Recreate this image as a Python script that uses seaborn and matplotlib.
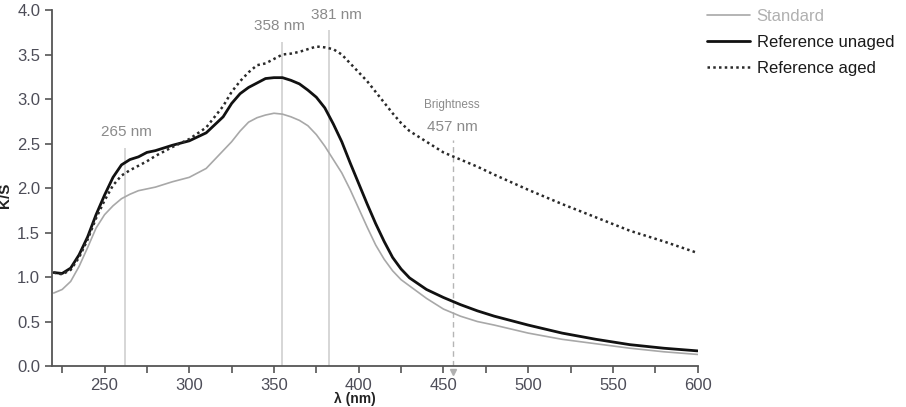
import numpy as np
import pandas as pd
import matplotlib
matplotlib.use("Agg")
import matplotlib.pyplot as plt
import seaborn as sns

# Wavelengths (nm) and K/S values
wavelength = [220, 225, 230, 235, 240, 245, 250, 255, 260, 265, 270, 275, 280,
              290, 300, 310, 320, 325, 330, 335, 340, 345, 350, 355, 360, 365,
              370, 375, 380, 385, 390, 395, 400, 405, 410, 415, 420, 425, 430,
              440, 450, 460, 470, 480, 500, 520, 540, 560, 580, 600]

standard = [0.82, 0.86, 0.95, 1.12, 1.33, 1.55, 1.70, 1.80, 1.88, 1.93, 1.97, 1.99, 2.01,
            2.07, 2.12, 2.22, 2.42, 2.52, 2.64, 2.74, 2.79, 2.82, 2.84, 2.83, 2.80, 2.76,
            2.70, 2.60, 2.47, 2.32, 2.17, 1.98, 1.77, 1.56, 1.36, 1.20, 1.07, 0.97, 0.90,
            0.76, 0.64, 0.56, 0.50, 0.46, 0.37, 0.30, 0.25, 0.20, 0.16, 0.13]

ref_unaged = [1.05, 1.04, 1.10, 1.25, 1.45, 1.70, 1.92, 2.12, 2.26, 2.32, 2.35, 2.40, 2.42,
              2.48, 2.53, 2.62, 2.80, 2.95, 3.06, 3.13, 3.18, 3.23, 3.24, 3.24, 3.21, 3.17,
              3.10, 3.02, 2.90, 2.72, 2.52, 2.28, 2.05, 1.82, 1.60, 1.40, 1.22, 1.09, 0.99,
              0.86, 0.77, 0.69, 0.62, 0.56, 0.46, 0.37, 0.30, 0.24, 0.20, 0.17]

ref_aged = [1.05, 1.03, 1.08, 1.22, 1.42, 1.66, 1.86, 2.03, 2.14, 2.20, 2.25, 2.30, 2.36,
            2.46, 2.55, 2.68, 2.92, 3.08, 3.20, 3.30, 3.38, 3.40, 3.45, 3.50, 3.51, 3.53,
            3.56, 3.59, 3.58, 3.56, 3.50, 3.40, 3.30, 3.20, 3.08, 2.96, 2.84, 2.73, 2.64,
            2.52, 2.40, 2.32, 2.24, 2.15, 1.98, 1.82, 1.67, 1.52, 1.40, 1.27]

# marker lines: (position, top of line, label)
marker_pos = [262, 354.5, 382.5]
marker_top = [2.45, 3.64, 3.78]
marker_labels = ["265 nm", "358 nm", "381 nm"]
brightness_pos = 455.5

df = pd.DataFrame({"wavelength": wavelength, "Standard": standard,
                   "Reference unaged": ref_unaged, "Reference aged": ref_aged})

sns.set_theme(style="ticks")
plt.rcParams["font.family"] = ["Liberation Sans", "DejaVu Sans"]

fig = plt.figure(figsize=(9.06, 4.07), dpi=100)
ax = fig.add_axes([0.0574, 0.1007, 0.7126, 0.8747])

# reference lines
for pos, top in zip(marker_pos, marker_top):
    ax.vlines(pos, 0, top, color="#cfcfcf", lw=1.2, zorder=1)
ax.vlines(brightness_pos, 0, 2.54, color="#b5b5b5", lw=1.0, linestyles=(0, (4, 3)), zorder=1)
ax.plot([brightness_pos], [-0.07], marker="v", color="#b0b0b0", markersize=5, clip_on=False)

sns.lineplot(data=df, x="wavelength", y="Standard", color="#a8a8a8", lw=1.2,
             label="Standard", ax=ax)
sns.lineplot(data=df, x="wavelength", y="Reference unaged", color="#111111", lw=2.0,
             label="Reference unaged", ax=ax)
sns.lineplot(data=df, x="wavelength", y="Reference aged", color="#2a2a2a", lw=1.8,
             linestyle=(0, (1, 1.3)), label="Reference aged", ax=ax)

# annotations
ann_color = "#8a8a8a"
label_xy = [(263, 2.63), (353, 3.82), (387, 3.94)]
for (tx, ty), lab in zip(label_xy, marker_labels):
    ax.text(tx, ty, lab, color=ann_color, fontsize=11, ha="center", va="center")
ax.text(455, 2.93, "Brightness", color=ann_color, fontsize=8.5, ha="center", va="center")
ax.text(455.3, 2.69, "457 nm", color=ann_color, fontsize=11, ha="center", va="center")

ax.set_xlim(219, 600)
ax.set_ylim(0, 4.0)
xt = np.arange(225, 601, 25)
ax.set_xticks(xt)
ax.set_xticklabels([str(v) if v % 50 == 0 else "" for v in xt])
yt = np.arange(0, 4.01, 0.5)
ax.set_yticks(yt)
ax.set_yticklabels([f"{v:.1f}" for v in yt])
ax.tick_params(axis="both", direction="out", length=5, width=1.2, color="#555555",
               labelsize=12, labelcolor="#4d4d58")
for side in ["left", "bottom"]:
    ax.spines[side].set_color("#555555")
    ax.spines[side].set_linewidth(1.3)
sns.despine(ax=ax)
ax.set_xlabel("")
ax.set_ylabel("")
ax.grid(False)

fig.text(0.006, 0.52, "K/S", rotation=90, fontsize=11, fontweight="bold",
         ha="center", va="center", color="#222222")
fig.text(0.392, 0.002, "λ (nm)", fontsize=10, fontweight="bold",
         ha="center", va="bottom", color="#222222")

leg = ax.legend(loc="upper left", bbox_to_anchor=(0.780, 0.979),
                bbox_transform=fig.transFigure, frameon=False, fontsize=12,
                handlelength=2.6, handletextpad=0.4, labelspacing=0.68,
                borderpad=0, borderaxespad=0)
leg.get_texts()[0].set_color("#b0b0b0")
for t in leg.get_texts()[1:]:
    t.set_color("#1a1a1a")

fig.savefig("out.png", dpi=100)
